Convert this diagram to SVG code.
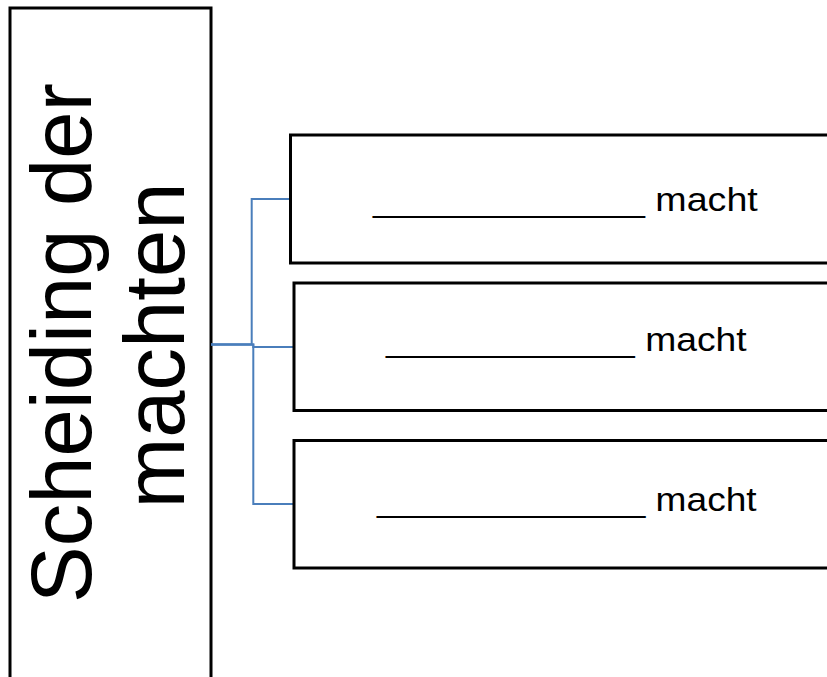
<svg xmlns="http://www.w3.org/2000/svg" width="827" height="677" viewBox="0 0 827 677">
  <style>
    .box { fill: #ffffff; stroke: #000000; stroke-width: 3; }
    .conn { fill: none; stroke: #4A7EBB; stroke-width: 2; }
    .big { font-family: "Liberation Sans", Arial, sans-serif; font-size: 85px; fill: #000000; text-anchor: middle; }
    .lbl { font-family: "Liberation Sans", Arial, sans-serif; font-size: 33px; fill: #000000; }
  </style>
  <rect x="0" y="0" width="827" height="677" fill="#ffffff"/>
  <g id="root">
    <rect class="box" x="10" y="8" width="201" height="700"/>
    <text class="big" transform="translate(91,343) rotate(-90)" x="0" y="0">Scheiding der</text>
    <text class="big" transform="translate(184,345.5) rotate(-90)" x="0" y="0">machten</text>
  </g>
  <g id="connectors">
    <path class="conn" d="M211,344.5 H251.7 V199 H290.5"/>
    <path class="conn" d="M211,344.5 H253.3 V347 H294"/>
    <path class="conn" d="M211,344.5 H253.3 V504 H294"/>
  </g>
  <g id="node1">
    <rect class="box" x="290.5" y="135" width="600" height="128"/>
    <text class="lbl" transform="translate(373,211) scale(1.14,1)" x="0" y="0">_____________ macht</text>
  </g>
  <g id="node2">
    <rect class="box" x="294" y="283" width="600" height="127.5"/>
    <text class="lbl" transform="translate(386,351) scale(1.13,1)" x="0" y="0">____________ macht</text>
  </g>
  <g id="node3">
    <rect class="box" x="294" y="440.5" width="600" height="127.5"/>
    <text class="lbl" transform="translate(377,510.5) scale(1.125,1)" x="0" y="0">_____________ macht</text>
  </g>
</svg>
